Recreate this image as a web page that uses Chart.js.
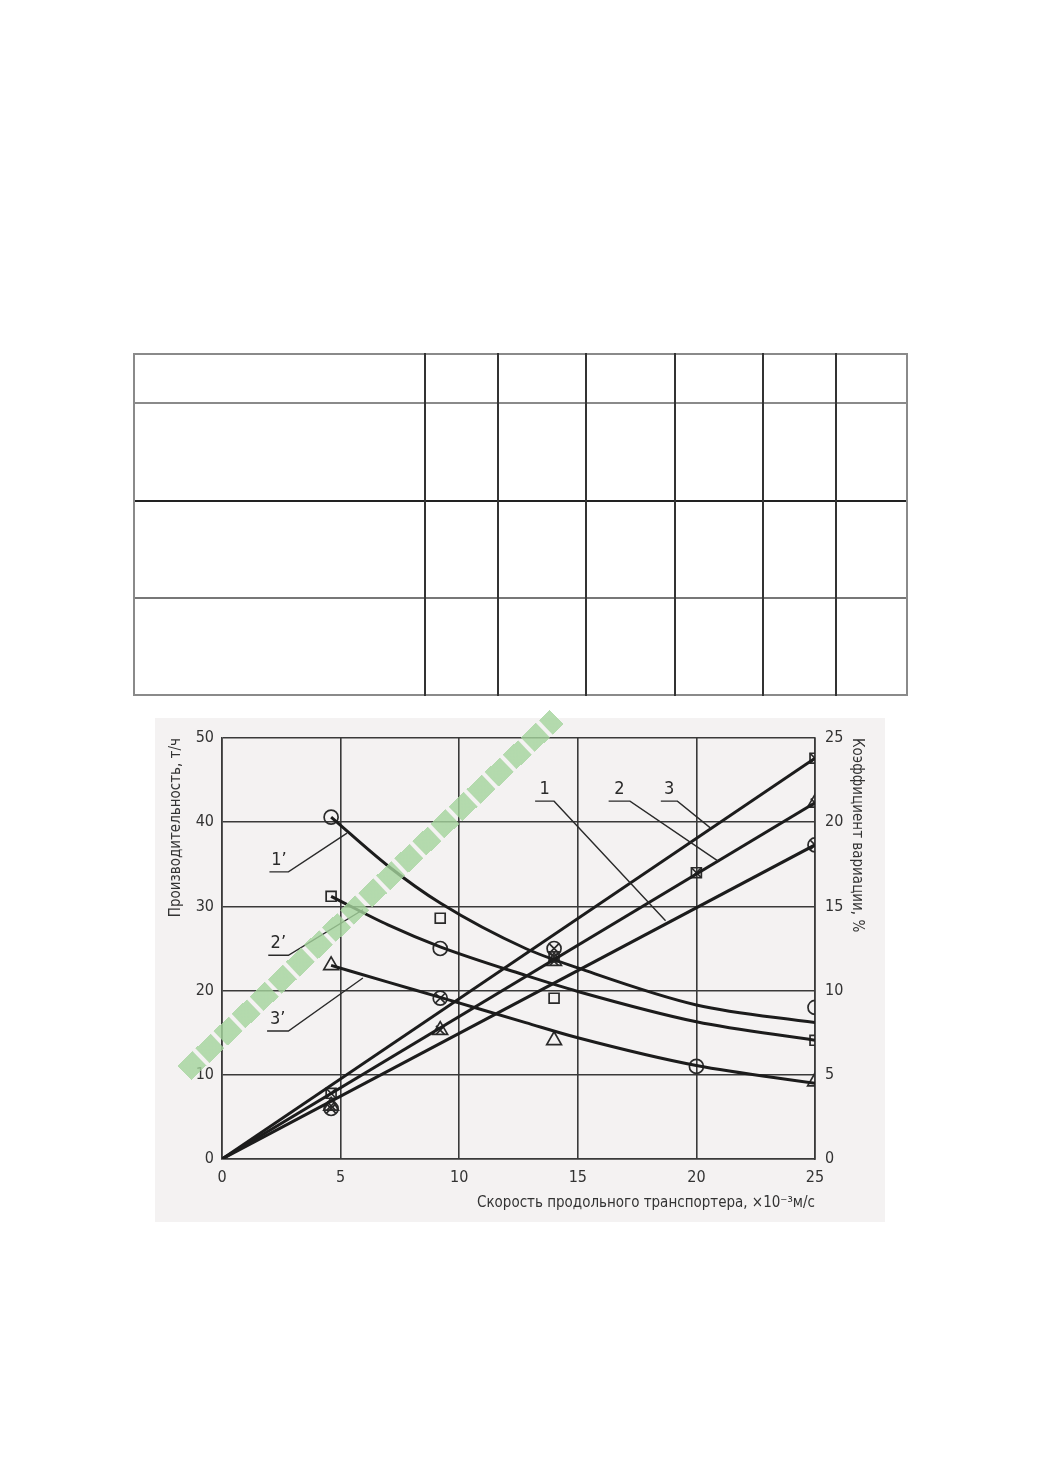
<!DOCTYPE html>
<html>
<head>
<meta charset="utf-8">
<script src="https://cdn.jsdelivr.net/npm/chart.js@4.4.1/dist/chart.umd.min.js"></script>
<style>
html,body{margin:0;padding:0;background:#fff;}
body{width:1039px;height:1471px;position:relative;overflow:hidden;}
#tbl{position:absolute;left:133px;top:353px;width:775px;height:342px;}
#tbl div{position:absolute;}
#box{position:absolute;left:155px;top:718px;width:730px;height:504px;}
#wm{position:absolute;left:113px;top:885px;width:515px;height:20px;
  transform:rotate(-43.7deg);opacity:.8;
  background:repeating-linear-gradient(90deg,#a3d39b 0 21px,rgba(0,0,0,0) 21px 25px);}
</style>
</head>
<body>
<div id="tbl"></div>
<div id="box"><canvas id="chart" width="730" height="504"></canvas></div>
<div id="wm"></div>
<script>
/* ---------- data ---------- */
// straight lines 1,2,3 : productivity, t/h (left axis)
const lineX  = [0, 25];
const line1Y = [0, 37.3];
const line2Y = [0, 42.3];
const line3Y = [0, 47.6];

// curves 1',2',3' : coefficient of variation, % (right axis)
const curveX  = [4.6, 7, 9.2, 12.8, 15, 20, 25];
const curve1Y = [20.3, 17.4, 15.2, 12.5, 11.35, 9.15, 8.1];
const curve2Y = [15.6, 13.9, 12.6, 10.9, 9.95, 8.15, 7.05];
const curve3Y = [11.5, 10.5, 9.6, 8.1, 7.2, 5.55, 4.5];

// measured points for the curves (%)
const circX = [4.6, 9.2, 25, 20];
const circY = [20.3, 12.5, 9.0, 5.5];
const sqX   = [4.6, 9.2, 14, 25];
const sqY   = [15.6, 14.3, 9.55, 7.05];
const triX  = [4.6, 14, 25];
const triY  = [11.5, 7.05, 4.6];

// measured points for the lines (t/h), crossed symbols
const xSqX   = [4.6, 14, 20, 25];
const xSqY   = [7.8, 24.0, 34.0, 47.6];
const xCircX = [4.6, 9.2, 14, 25];
const xCircY = [6.0, 19.1, 25.0, 37.3];
const xTriX  = [4.6, 9.2, 14, 25];
const xTriY  = [6.3, 15.3, 23.5, 42.3];

const xTicks = [0, 5, 10, 15, 20, 25];

// curve labels with leader lines (data units, left axis)
const labelText  = ["1’", "2’", "3’", "1", "2", "3"];
const labelLineX0 = [2.0, 1.95, 1.9, 13.2, 16.3, 18.5];
const labelLineX1 = [2.8, 2.8, 2.8, 14.0, 17.2, 19.2];
const labelLineY  = [34.1, 24.2, 15.2, 42.5, 42.5, 42.5];
const labelEndX   = [5.27, 5.94, 5.94, 18.7, 20.9, 20.6];
const labelEndY   = [38.7, 29.6, 21.5, 28.3, 35.4, 39.3];

/* ---------- empty table on top ---------- */
(function(){
  const t = document.getElementById("tbl");
  const rows = [0, 49, 147, 244, 341];
  const cols = [0, 291, 364, 452, 541, 629, 702, 773];
  const rowCol = ["#8a8a8a", "#8a8a8a", "#222", "#777", "#8a8a8a"];
  rows.forEach((r,i)=>{
    const d = document.createElement("div");
    d.style.cssText = "left:0;top:"+r+"px;width:775px;height:2px;background:"+rowCol[i];
    t.appendChild(d);
  });
  cols.forEach((c,i)=>{
    const d = document.createElement("div");
    const edge = (i===0 || i===cols.length-1);
    d.style.cssText = "left:"+c+"px;top:0;width:"+(edge?2:1.5)+"px;height:343px;background:"+(edge?"#8a8a8a":"#333");
    t.appendChild(d);
  });
})();

/* ---------- helpers ---------- */
function pts(xs, ys){ return xs.map((x,i)=>({x:x, y:ys[i]})); }

const INK = "#1c1c1c";
const GRID = "#3a3a3a";

function lineDs(xs, ys, axis, curved){
  return {
    data: pts(xs, ys), yAxisID: axis, showLine: true,
    borderColor: INK, borderWidth: 3, pointRadius: 0,
    cubicInterpolationMode: curved ? "monotone" : "default",
    fill: false
  };
}
function markDs(xs, ys, axis, style, r){
  return {
    data: pts(xs, ys), yAxisID: axis, showLine: false,
    pointStyle: style, pointRadius: r, pointHoverRadius: r,
    pointBorderColor: "#2a2a2a", pointBorderWidth: 1.7,
    pointBackgroundColor: "rgba(0,0,0,0)"
  };
}

/* ---------- plugins ---------- */
const bgPlugin = {
  id: "bg",
  beforeDraw(c){
    const ctx = c.ctx;
    ctx.save();
    ctx.fillStyle = "#f4f2f2";
    ctx.fillRect(0, 0, c.width, c.height);
    ctx.restore();
  }
};

const labelPlugin = {
  id: "leaders",
  afterDatasetsDraw(c){
    const ctx = c.ctx, sx = c.scales.x, sy = c.scales.y;
    ctx.save();
    ctx.strokeStyle = "#2a2a2a";
    ctx.lineWidth = 1.4;
    ctx.fillStyle = "#2a2a2a";
    ctx.font = "18px 'DejaVu Sans Condensed', 'DejaVu Sans'";
    ctx.textAlign = "center";
    ctx.textBaseline = "bottom";
    labelText.forEach((txt,i)=>{
      const x0 = sx.getPixelForValue(labelLineX0[i]);
      const x1 = sx.getPixelForValue(labelLineX1[i]);
      const y0 = sy.getPixelForValue(labelLineY[i]);
      const ex = sx.getPixelForValue(labelEndX[i]);
      const ey = sy.getPixelForValue(labelEndY[i]);
      ctx.beginPath();
      ctx.moveTo(x0, y0);
      ctx.lineTo(x1, y0);
      ctx.lineTo(ex, ey);
      ctx.stroke();
      ctx.fillText(txt, (x0 + x1) / 2, y0 - 3);
    });
    ctx.restore();
  }
};

/* ---------- chart ---------- */
const tickFont = {family: "'DejaVu Sans Condensed', 'DejaVu Sans'", size: 16};
const titleFont = {family: "'DejaVu Sans Condensed', 'DejaVu Sans'", size: 15};

new Chart(document.getElementById("chart").getContext("2d"), {
  type: "scatter",
  data: {
    datasets: [
      lineDs(lineX, line1Y, "y", false),
      lineDs(lineX, line2Y, "y", false),
      lineDs(lineX, line3Y, "y", false),
      lineDs(curveX, curve1Y, "y2", true),
      lineDs(curveX, curve2Y, "y2", true),
      lineDs(curveX, curve3Y, "y2", true),
      markDs(circX, circY, "y2", "circle", 7),
      markDs(sqX, sqY, "y2", "rect", 7),
      markDs(triX, triY, "y2", "triangle", 8.5),
      markDs(xSqX, xSqY, "y", "rect", 7),
      markDs(xSqX, xSqY, "y", "crossRot", 7),
      markDs(xCircX, xCircY, "y", "circle", 7),
      markDs(xCircX, xCircY, "y", "crossRot", 7),
      markDs(xTriX, xTriY, "y", "triangle", 8.5),
      markDs(xTriX, xTriY, "y", "crossRot", 6)
    ]
  },
  options: {
    responsive: false,
    animation: false,
    layout: {padding: {top: 20, left: 0, right: 0, bottom: 0}},
    plugins: {legend: {display: false}, tooltip: {enabled: false}},
    scales: {
      x: {
        type: "linear", min: 0, max: 25,
        afterBuildTicks: s => { s.ticks = xTicks.map(v => ({value: v})); },
        afterFit: s => { s.height = 63; },
        grid: {color: GRID, lineWidth: 1.6, drawTicks: false},
        border: {color: GRID, width: 1.6},
        ticks: {color: "#333", font: tickFont, padding: 9, maxRotation: 0},
        title: {display: true, text: "Скорость продольного транспортера, ×10⁻³м/с",
                align: "end", color: "#333", font: titleFont, padding: {top: 0, bottom: 10}}
      },
      y: {
        position: "left", min: 0, max: 50,
        ticks: {stepSize: 10, color: "#333", font: tickFont, padding: 8},
        afterFit: s => { s.width = 67; },
        grid: {color: GRID, lineWidth: 1.6, drawTicks: false},
        border: {color: GRID, width: 1.6},
        title: {display: true, text: "Производительность, т/ч",
                align: "end", color: "#333", font: titleFont, padding: {top: 12, bottom: 0}}
      },
      y2: {
        position: "right", min: 0, max: 25,
        ticks: {stepSize: 5, color: "#333", font: tickFont, padding: 10},
        afterFit: s => { s.width = 70; },
        grid: {drawOnChartArea: false, drawTicks: false},
        border: {color: GRID, width: 1.6},
        title: {display: true, text: "Коэффициент вариации, %",
                align: "end", color: "#333", font: titleFont, padding: {top: 19, bottom: 0}}
      }
    }
  },
  plugins: [bgPlugin, labelPlugin]
});
</script>
</body>
</html>
